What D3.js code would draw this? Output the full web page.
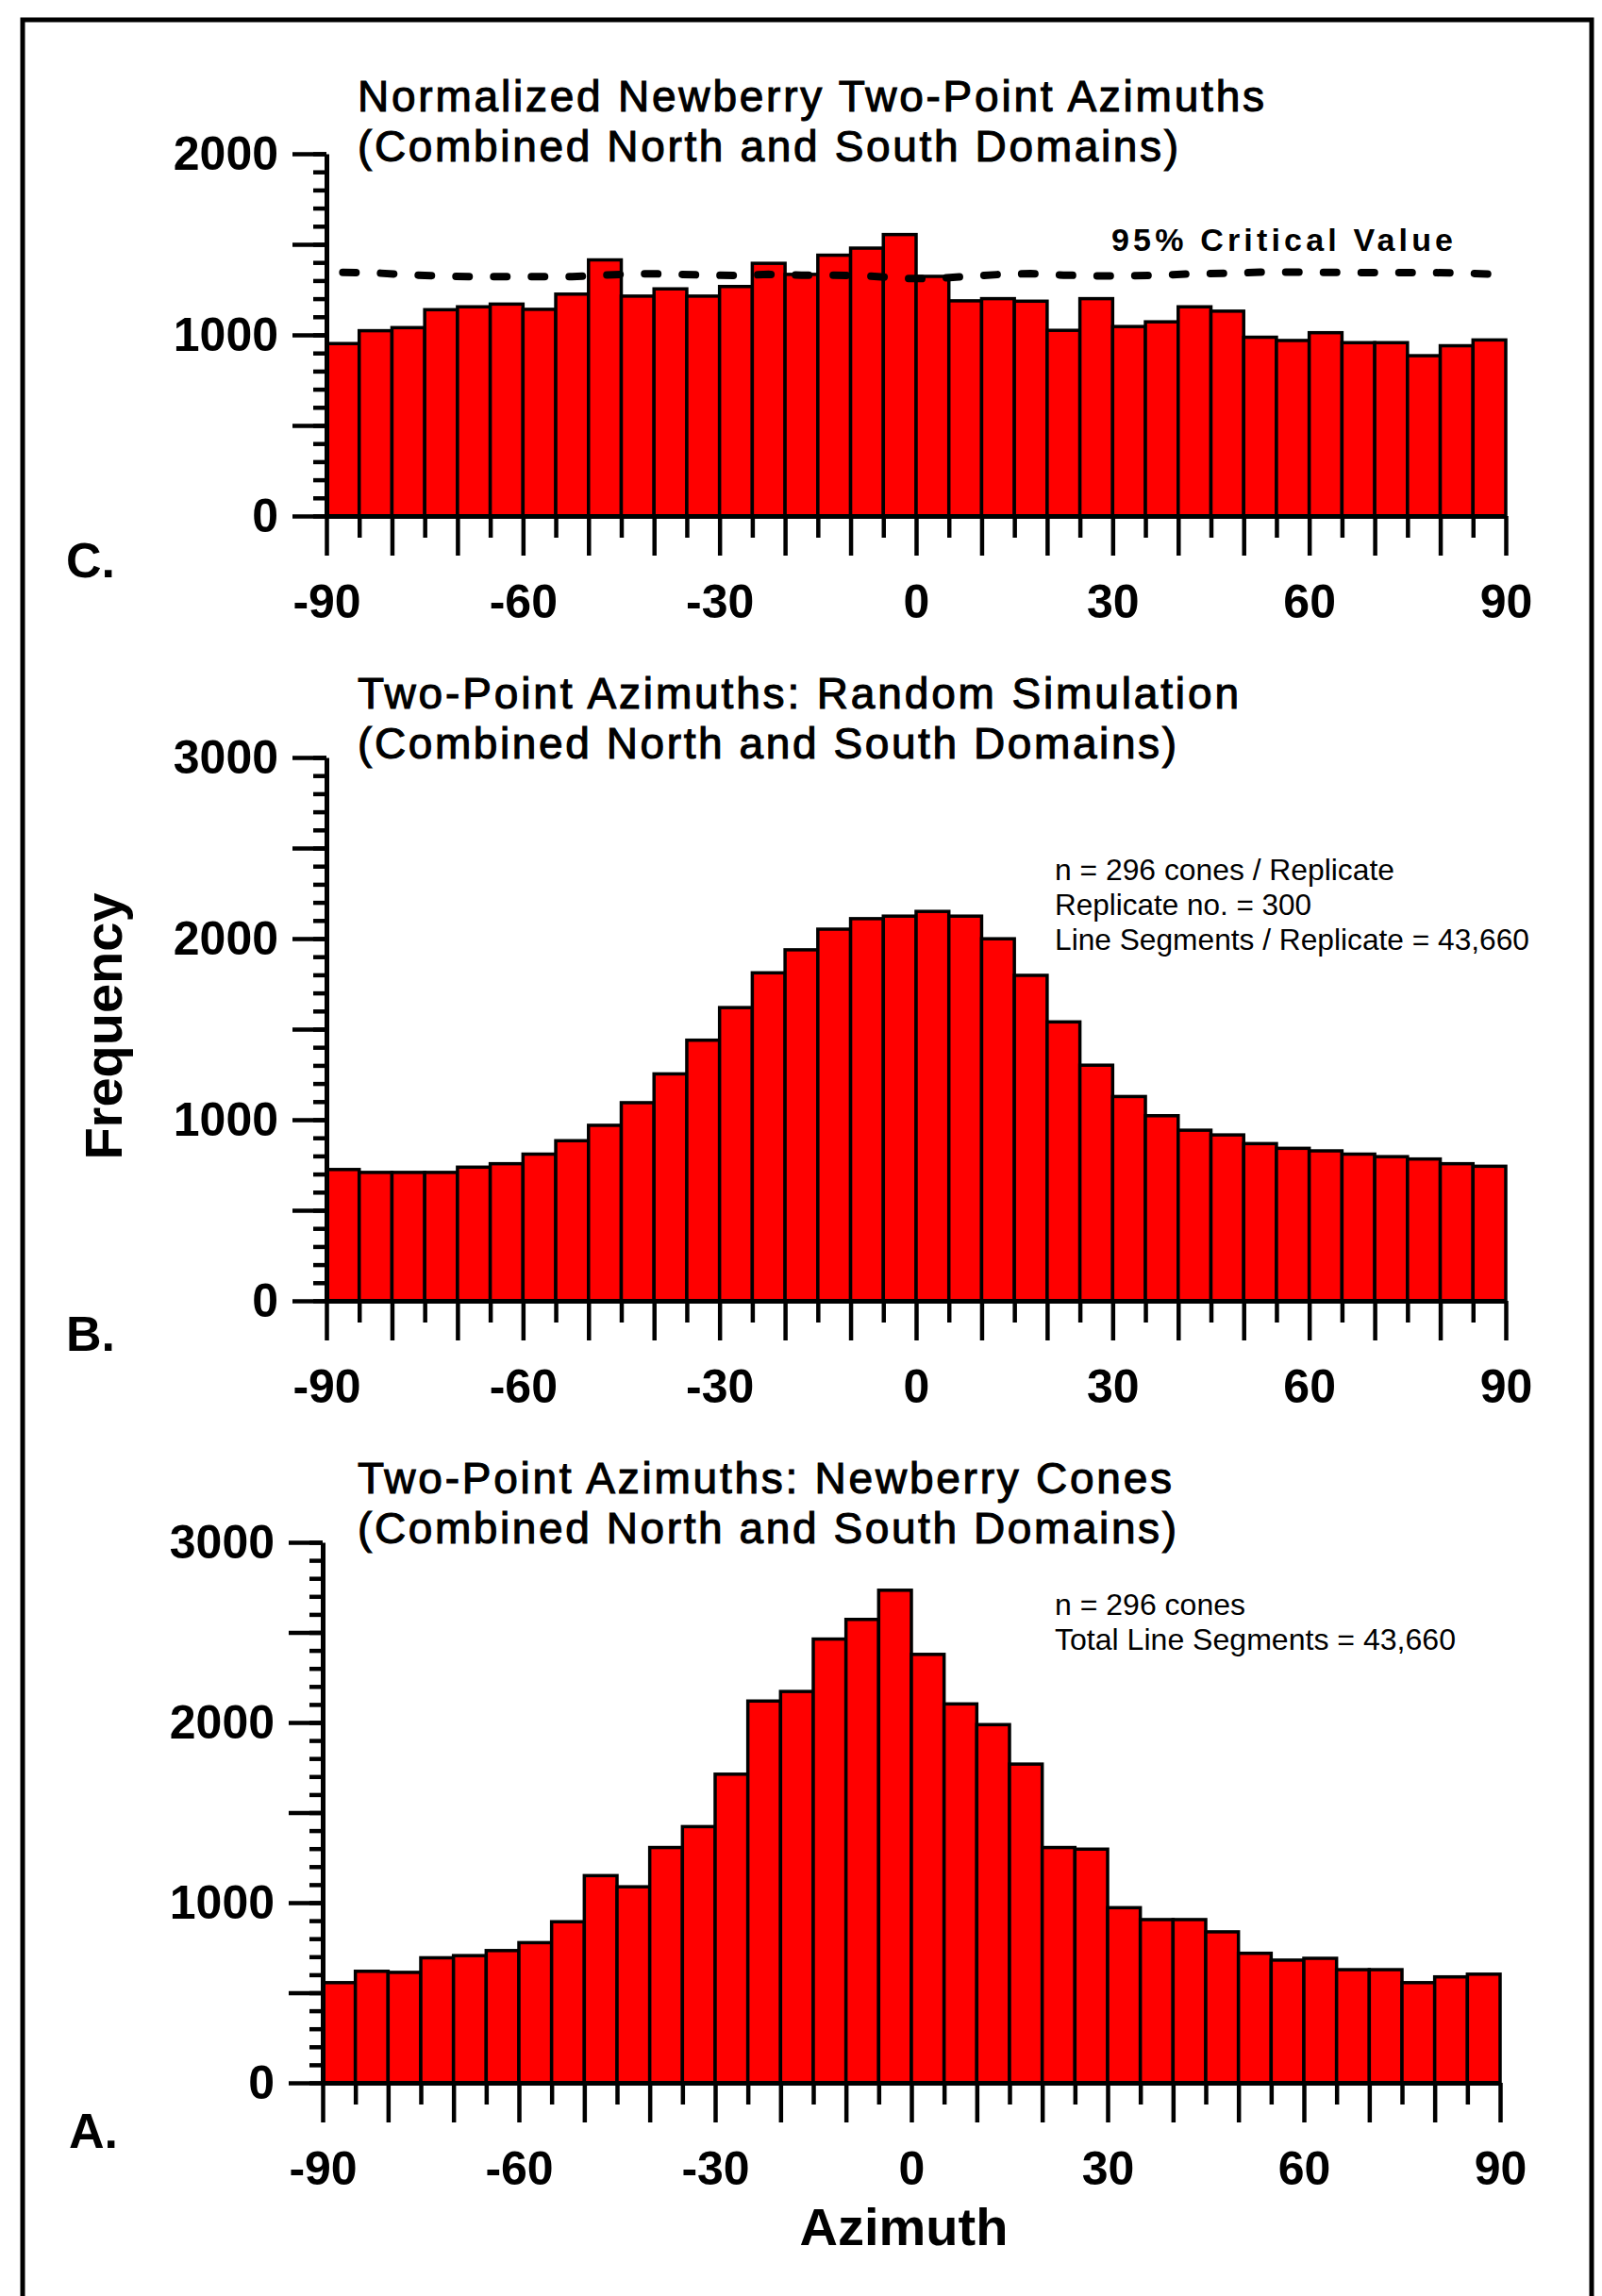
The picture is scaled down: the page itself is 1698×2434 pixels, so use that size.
<!DOCTYPE html>
<html>
<head>
<meta charset="utf-8">
<script src="https://cdn.jsdelivr.net/npm/d3@7"></script>
<style>
body { margin: 0; background: #fff; }
svg { display: block; font-family: "Liberation Sans", Arial, sans-serif; }
</style>
</head>
<body>
<div id="chart"></div>
<script>
// bin left edges (degrees), 5 degree bins
const binStart = [-90,-85,-80,-75,-70,-65,-60,-55,-50,-45,-40,-35,-30,-25,-20,-15,-10,-5,
                  0,5,10,15,20,25,30,35,40,45,50,55,60,65,70,75,80,85];

// C. normalized azimuths
const normalizedC = [952,1023,1040,1139,1155,1170,1141,1225,1414,1214,1254,1214,1267,1395,1334,1440,1479,1554,
                     1323,1188,1200,1186,1025,1200,1046,1072,1155,1131,987,969,1012,957,957,885,940,972];
// 95% critical value, read at bin centres
const criticalC = [1345,1342,1332,1325,1321,1321,1321,1321,1330,1338,1336,1330,1328,1334,1330,1330,1326,1312,
                   1310,1322,1333,1338,1330,1326,1326,1330,1338,1340,1346,1347,1345,1344,1344,1344,1342,1336];
// B. random simulation
const simulationB = [725,709,709,709,738,757,810,884,969,1094,1253,1439,1619,1811,1938,2052,2110,2124,
                     2150,2124,1999,1797,1540,1301,1128,1022,942,916,868,842,828,810,796,783,757,743];
// A. Newberry cones
const newberryA = [556,619,613,694,706,734,778,894,1150,1088,1306,1422,1713,2119,2172,2463,2572,2734,
                   2378,2103,1988,1769,1306,1297,972,906,906,838,719,681,691,628,628,556,588,603];

const xTickLabels = [-90,-60,-30,0,30,60,90];
const yLabelsC = [0,1000,2000];
const yLabelsAB = [0,1000,2000,3000];

const width = 1698, height = 2434;
const fontFam = '"Liberation Sans", Arial, sans-serif';

const svg = d3.select("#chart").append("svg")
    .attr("width", width)
    .attr("height", height);

svg.append("rect").attr("width", width).attr("height", height).attr("fill", "#fff");

// outer frame
svg.append("rect")
    .attr("x", 24).attr("y", 21)
    .attr("width", 1663).attr("height", 2500)
    .attr("fill", "none").attr("stroke", "#000").attr("stroke-width", 5);

function panel(p) {
    const x = d3.scaleLinear().domain([-90, 90]).range(p.xRange);
    const y = d3.scaleLinear().domain([0, p.yMax]).range(p.yRange);
    const g = svg.append("g");

    // bars
    g.selectAll("rect.bar")
        .data(p.values)
        .join("rect")
        .attr("class", "bar")
        .attr("x", (d, i) => x(binStart[i]))
        .attr("width", (d, i) => x(binStart[i] + 5) - x(binStart[i]))
        .attr("y", d => y(d))
        .attr("height", d => y(0) - y(d))
        .attr("fill", "#ff0000")
        .attr("stroke", "#000")
        .attr("stroke-width", 3.5);

    // y axis: minor every 100, major every 500
    const yMinor = g.append("g")
        .attr("transform", `translate(${p.xRange[0]},0)`)
        .call(d3.axisLeft(y).tickValues(d3.range(0, p.yMax + 1, 100)).tickSize(14).tickSizeOuter(0).tickFormat(""));
    yMinor.select(".domain").remove();

    const yMajor = g.append("g")
        .attr("transform", `translate(${p.xRange[0]},0)`)
        .call(d3.axisLeft(y).tickValues(d3.range(0, p.yMax + 1, 500)).tickSize(36).tickSizeOuter(0)
            .tickPadding(15).tickFormat(d => p.yLabels.includes(d) ? String(d) : ""));

    // x axis: long ticks every 10, short ticks between
    const xMinor = g.append("g")
        .attr("transform", `translate(0,${p.yRange[0]})`)
        .call(d3.axisBottom(x).tickValues(binStart.filter(d => d % 10 !== 0)).tickSize(23).tickSizeOuter(0).tickFormat(""));
    xMinor.select(".domain").remove();

    const xMajor = g.append("g")
        .attr("transform", `translate(0,${p.yRange[0]})`)
        .call(d3.axisBottom(x).tickValues(binStart.filter(d => d % 10 === 0).concat([90])).tickSize(42).tickSizeOuter(0)
            .tickPadding(30).tickFormat(d => xTickLabels.includes(d) ? String(d) : ""));

    [yMinor, yMajor, xMinor, xMajor].forEach(a => {
        a.selectAll(".tick line").attr("stroke", "#000").attr("stroke-width", 4.5);
        a.selectAll(".domain").attr("stroke", "#000").attr("stroke-width", 5);
        a.attr("font-family", fontFam).attr("font-size", 50).attr("font-weight", "bold");
        a.selectAll("text").attr("fill", "#000");
    });

    // critical value line
    if (p.critical) {
        g.append("path")
            .datum(p.critical)
            .attr("fill", "none")
            .attr("stroke", "#000")
            .attr("stroke-width", 8)
            .attr("stroke-linecap", "round")
            .attr("stroke-dasharray", "14,26")
            .attr("d", d3.line().x((d, i) => x(binStart[i] + 2.5)).y(d => y(d)));

        g.append("text")
            .text("95% Critical Value")
            .attr("x", 1178).attr("y", 266)
            .attr("font-size", 34).attr("font-weight", "bold")
            .attr("textLength", 362).attr("lengthAdjust", "spacing")
            .attr("fill", "#000");
    }

    // title, two lines
    p.title.forEach((t, i) => {
        g.append("text")
            .text(t.text)
            .attr("x", 379)
            .attr("y", p.titleY + i * 53)
            .attr("font-size", 46)
            .attr("textLength", t.len)
            .attr("lengthAdjust", "spacing")
            .attr("fill", "#000")
            .attr("stroke", "#000")
            .attr("stroke-width", 1.1);
    });

    // panel letter
    g.append("text")
        .text(p.letter)
        .attr("x", p.letterPos[0]).attr("y", p.letterPos[1])
        .attr("font-size", 52).attr("font-weight", "bold")
        .attr("fill", "#000");

    // notes
    if (p.notes) {
        p.notes.forEach((n, i) => {
            g.append("text")
                .text(n.text)
                .attr("x", 1118)
                .attr("y", p.notesY + i * 37)
                .attr("font-size", 32)
                .attr("textLength", n.len)
                .attr("lengthAdjust", "spacingAndGlyphs")
                .attr("fill", "#000");
        });
    }
    return g;
}

panel({
    values: normalizedC, critical: criticalC, yMax: 2000, yLabels: yLabelsC,
    xRange: [346, 1596], yRange: [547, 163],
    title: [{text: "Normalized Newberry Two-Point Azimuths", len: 961},
            {text: "(Combined North and South Domains)", len: 870}],
    titleY: 118, letter: "C.", letterPos: [70, 612]
});

panel({
    values: simulationB, yMax: 3000, yLabels: yLabelsAB,
    xRange: [346, 1596], yRange: [1379, 803],
    title: [{text: "Two-Point Azimuths: Random Simulation", len: 934},
            {text: "(Combined North and South Domains)", len: 868}],
    titleY: 751, letter: "B.", letterPos: [70, 1432],
    notes: [{text: "n = 296 cones / Replicate", len: 360},
            {text: "Replicate no. = 300", len: 272},
            {text: "Line Segments / Replicate = 43,660", len: 503}],
    notesY: 933
});

panel({
    values: newberryA, yMax: 3000, yLabels: yLabelsAB,
    xRange: [342, 1590], yRange: [2208, 1635],
    title: [{text: "Two-Point Azimuths: Newberry Cones", len: 863},
            {text: "(Combined North and South Domains)", len: 868}],
    titleY: 1583, letter: "A.", letterPos: [73, 2277],
    notes: [{text: "n = 296 cones", len: 202},
            {text: "Total Line Segments = 43,660", len: 425}],
    notesY: 1712
});

// axis titles
svg.append("text")
    .text("Frequency")
    .attr("transform", "translate(129,1088) rotate(-90)")
    .attr("text-anchor", "middle")
    .attr("font-size", 56).attr("font-weight", "bold")
    .attr("fill", "#000");

svg.append("text")
    .text("Azimuth")
    .attr("x", 958).attr("y", 2380)
    .attr("text-anchor", "middle")
    .attr("font-size", 56).attr("font-weight", "bold")
    .attr("fill", "#000");
</script>
</body>
</html>
